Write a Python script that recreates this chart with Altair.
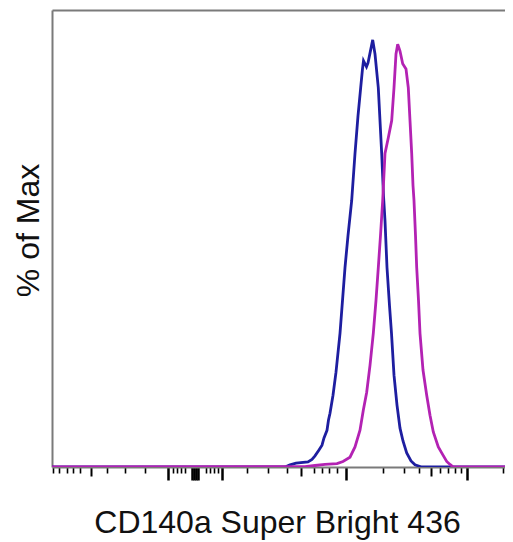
import altair as alt
import pandas as pd

# Unlabelled channel axis (arbitrary display units) and % of Max
blue_x = [0, 233, 238, 244, 256, 260, 263, 267, 270, 272, 275, 276.5, 278, 281, 284, 288,
          293, 296, 299.7, 303, 306, 308.7, 310.5, 311.5, 314.5, 316, 318, 320.7, 323,
          326.3, 329.7, 331.5, 333, 335, 337.5, 339.5, 342, 345, 348, 351, 354.7, 359,
          363, 369.7, 453]
blue_y = [0, 0, 0.5, 0.9, 1.2, 1.8, 2.6, 4.0, 5.1, 6.8, 8.6, 11.0, 12.6, 16.8, 22.2, 31.3,
          46.7, 54.2, 62.4, 73.4, 82.2, 88.8, 93.2, 95.1, 93.7, 94.6, 96.9, 100.0, 96.7,
          88.8, 73.4, 63.5, 57.7, 46.7, 37.8, 31.3, 21.5, 14.5, 9.1, 6.1, 3.3, 1.4,
          0.5, 0, 0]

mag_x = [0, 253, 263, 273, 285, 291, 298, 303, 308, 311.3, 314.7, 318, 321.3, 324, 326.3,
         328.5, 330.7, 333, 336.3, 339.7, 342, 344, 345.7, 348, 350.7, 354, 356.3, 358,
         359.7, 361, 362, 363.5, 364.7, 366.5, 368, 371, 374.7, 378, 381.3, 386.3, 389.7,
         394.7, 398, 401.3, 453]
mag_y = [0, 0.1, 0.35, 0.6, 0.8, 1.3, 2.3, 4.7, 8.6, 13.3, 17.5, 23.8, 31.3, 39.0, 46.7,
         54.2, 62.4, 73.4, 77.1, 81.1, 88.8, 96.7, 99.0, 97.4, 94.4, 93.2, 88.8, 81.1,
         73.4, 65.9, 62.4, 54.2, 46.7, 39.0, 31.3, 22.7, 16.8, 12.1, 8.2, 4.7, 3.3,
         1.3, 0.6, 0, 0]

long_ticks = [116.3, 139.5, 141.5, 143.5, 145.5, 169.7, 294, 414.7]
medium_ticks = [38.7, 248.7, 378.5]
short_ticks = [0.7, 7.3, 14.7, 21.3, 28, 54.7, 73, 93, 120.5, 124.5, 128.5, 132.5,
               153.5, 157.5, 161.5, 165.5, 194.7, 216.3, 234.7, 262, 269.7, 277, 285,
               330.5, 352, 367, 388, 396, 403, 409, 450.5]

x_domain = [0, 453]
y_domain = [0, 107]

blue_df = pd.DataFrame({"ch": blue_x, "pct": blue_y})
mag_df = pd.DataFrame({"ch": mag_x, "pct": mag_y})

all_ticks = sorted(long_ticks + medium_ticks + short_ticks)
long_test = "indexof(%s, datum.value) >= 0" % str(long_ticks)
med_test = "indexof(%s, datum.value) >= 0" % str(medium_ticks)

FONT = "Liberation Sans"
GRAY = "#7a7a7a"

x_scale = alt.Scale(domain=x_domain, nice=False, zero=False)
y_scale = alt.Scale(domain=y_domain, nice=False)

bottom_axis = alt.Axis(
    orient="bottom", values=all_ticks, labels=False, grid=False,
    domain=True, domainColor=GRAY, domainWidth=2,
    ticks=True, tickColor="#000000",
    tickSize={"condition": [{"test": long_test, "value": 13},
                            {"test": med_test, "value": 9}], "value": 6},
    tickWidth={"condition": [{"test": long_test, "value": 2.5},
                             {"test": med_test, "value": 2}], "value": 1.6},
    title="CD140a Super Bright 436", titleFont=FONT, titleFontSize=32,
    titleFontWeight="normal", titleColor="#111111",
    titleX=225, titleY=65, titleBaseline="alphabetic", titleAlign="center",
)

top_axis = alt.Axis(orient="top", labels=False, ticks=False, grid=False,
                    domain=True, domainColor=GRAY, domainWidth=2, title=None)

left_axis = alt.Axis(
    orient="left", labels=False, ticks=False, grid=False,
    domain=True, domainColor=GRAY, domainWidth=2,
    title="% of Max", titleFont=FONT, titleFontSize=32, titleFontWeight="normal",
    titleColor="#111111", titleAngle=-90, titleX=-13.5, titleY=220,
    titleBaseline="alphabetic", titleAlign="center",
)

blue = alt.Chart(blue_df).mark_line(color="#1e1ea0", strokeWidth=2.8, clip=True).encode(
    x=alt.X("ch:Q", scale=x_scale, axis=bottom_axis),
    y=alt.Y("pct:Q", scale=y_scale, axis=left_axis),
)

mag = alt.Chart(mag_df).mark_line(color="#b322b3", strokeWidth=2.8, clip=True).encode(
    x=alt.X("ch:Q", scale=x_scale, axis=top_axis),
    y=alt.Y("pct:Q", scale=y_scale, axis=left_axis),
)

chart = alt.layer(blue, mag).resolve_axis(x="independent").properties(
    width=453, height=457,
    padding={"left": 44, "top": 2, "right": 0, "bottom": 77},
    autosize=alt.AutoSizeParams(type="none"),
    background="#ffffff",
).configure_view(strokeOpacity=0)

chart.save("out.html", embed_options={"renderer": "svg", "actions": False})
